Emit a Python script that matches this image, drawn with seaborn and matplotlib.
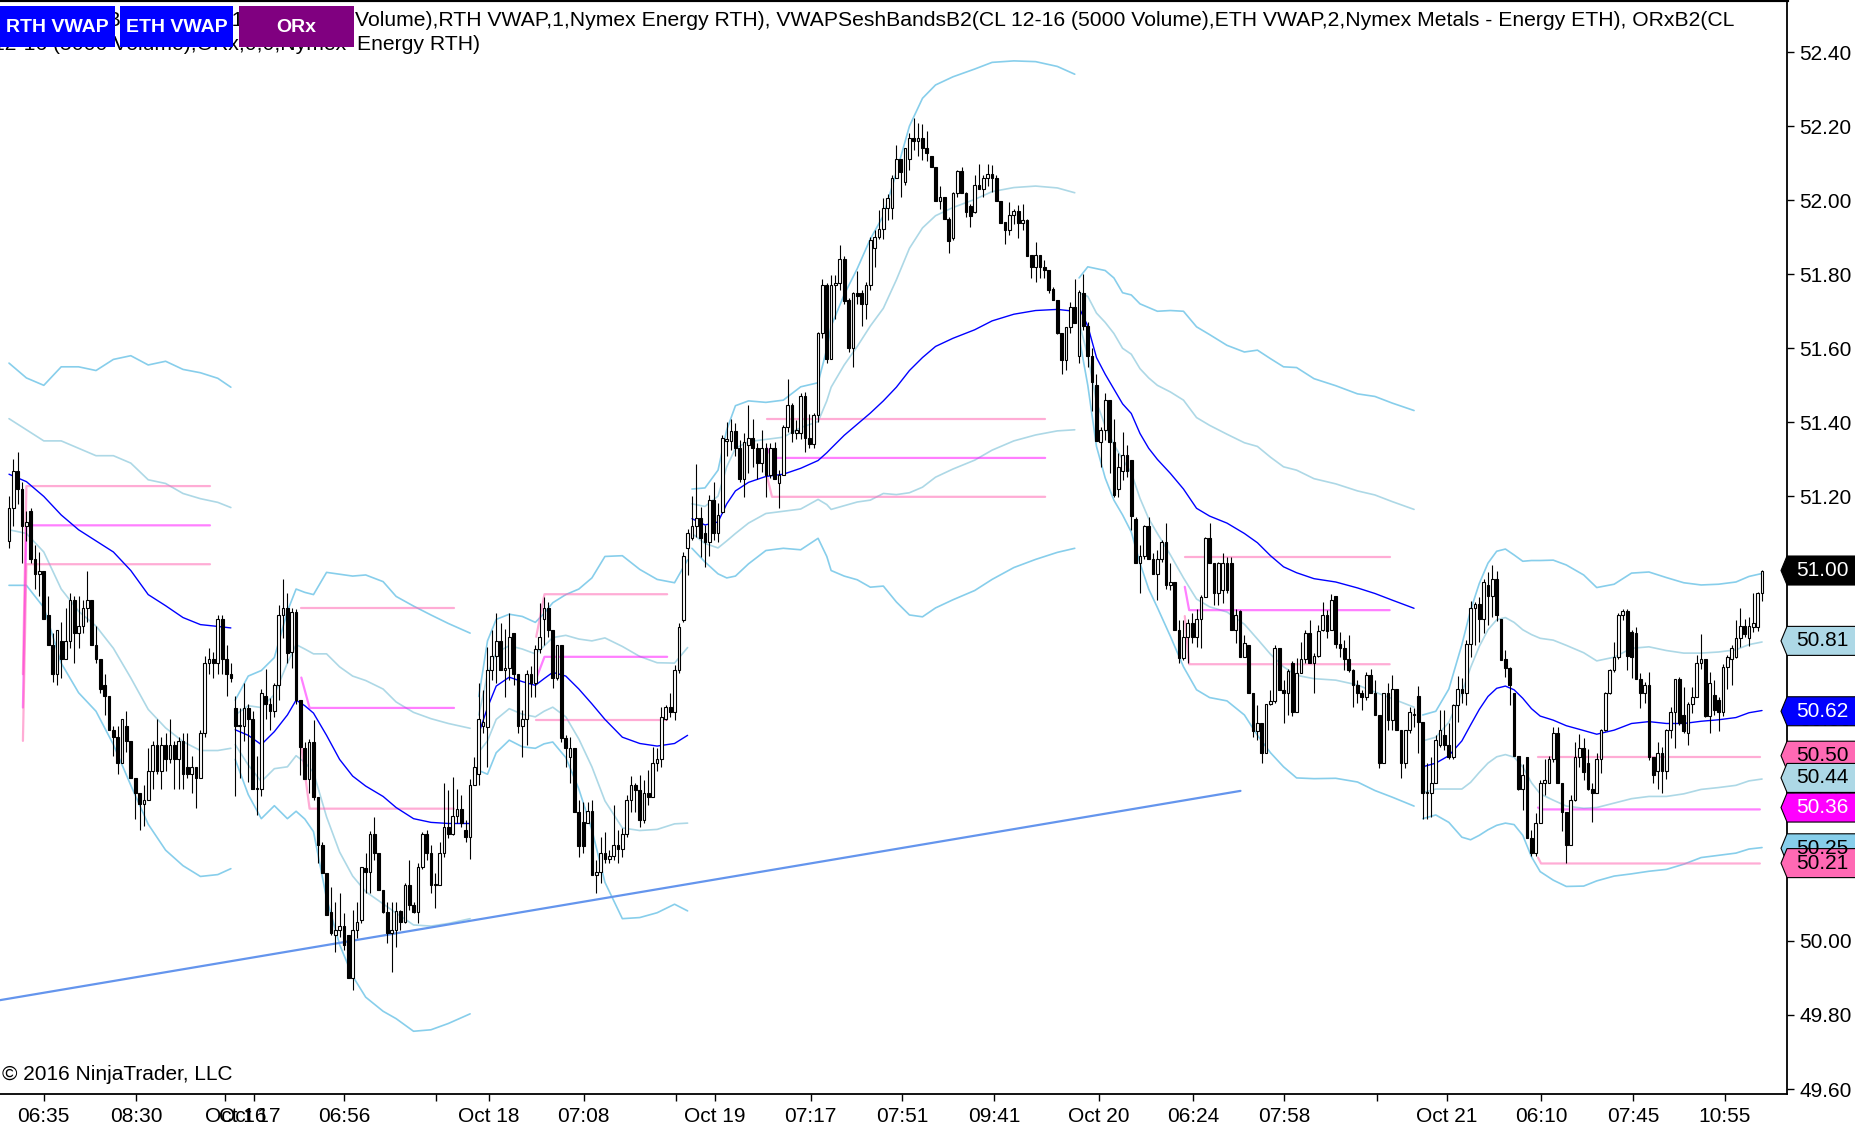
import numpy as np
import pandas as pd
import matplotlib
matplotlib.use("Agg")
import matplotlib.pyplot as plt
from matplotlib.patches import Polygon, Rectangle
from matplotlib.transforms import blended_transform_factory
import seaborn as sns

# ---------------- data ----------------
# candles (open, high, low, close), 5000-volume bars, in bar order
s1_ohlc = [(51.08,51.20,51.06,51.17),(51.17,51.30,51.12,51.27),(51.27,51.32,51.18,51.22),(51.22,51.24,51.02,51.12),(51.12,51.16,51.08,51.13),
 (51.16,51.17,51.02,51.03),(51.03,51.07,50.95,50.99),(50.99,51.05,50.93,51.00),(51.00,51.00,50.87,50.87),(50.88,50.93,50.80,50.80),
 (50.80,50.83,50.70,50.72),(50.72,50.84,50.69,50.84),(50.81,50.86,50.71,50.76),(50.76,50.90,50.76,50.81),(50.81,50.94,50.79,50.92),
 (50.92,50.93,50.75,50.83),(50.83,50.93,50.79,50.85),(50.85,50.92,50.83,50.90),(50.90,51.00,50.86,50.92),(50.92,50.92,50.80,50.80),
 (50.80,50.85,50.75,50.76),(50.76,50.76,50.67,50.68),(50.69,50.72,50.61,50.66),(50.66,50.66,50.57,50.57),(50.57,50.58,50.50,50.55),
 (50.55,50.58,50.45,50.48),(50.48,50.60,50.48,50.60),(50.58,50.62,50.51,50.54),(50.54,50.54,50.44,50.44),(50.44,50.44,50.33,50.40),
 (50.40,50.40,50.30,50.37),(50.37,50.42,50.31,50.38),(50.38,50.52,50.38,50.46),(50.46,50.54,50.41,50.53),(50.53,50.60,50.45,50.46),
 (50.46,50.55,50.41,50.53),(50.53,50.56,50.46,50.49),(50.49,50.60,50.48,50.53),(50.53,50.54,50.41,50.49),(50.49,50.55,50.41,50.54),
 (50.54,50.56,50.41,50.45),(50.47,50.56,50.44,50.45),(50.45,50.50,50.40,50.47),(50.47,50.47,50.36,50.44),(50.44,50.57,50.44,50.56),
 (50.56,50.77,50.55,50.75),(50.75,50.79,50.72,50.76),(50.76,50.78,50.71,50.75),(50.75,50.88,50.72,50.87),(50.87,50.88,50.72,50.76),
 (50.76,50.80,50.66,50.72),(50.72,50.75,50.70,50.71)]

s2_ohlc = [(50.63,50.66,50.39,50.58),(50.58,50.63,50.44,50.58),(50.58,50.695,50.54,50.63),(50.63,50.64,50.43,50.60),(50.60,50.62,50.41,50.41),
 (50.41,50.50,50.34,50.41),(50.41,50.68,50.39,50.67),(50.66,50.735,50.60,50.64),(50.64,50.655,50.57,50.62),(50.62,50.695,50.605,50.69),
 (50.69,50.906,50.65,50.88),(50.88,50.976,50.817,50.90),(50.90,50.938,50.749,50.776),(50.78,50.90,50.738,50.888),(50.888,50.897,50.639,50.65),
 (50.65,50.65,50.448,50.524),(50.52,50.537,50.438,50.438),(50.438,50.546,50.398,50.537),(50.537,50.596,50.38,50.389),(50.389,50.389,50.209,50.258),
 (50.258,50.267,50.182,50.182),(50.182,50.182,50.07,50.07),(50.079,50.146,50.016,50.02),(50.016,50.106,49.97,50.029),(50.029,50.128,50.01,50.04),
 (50.04,50.076,49.975,49.99),(50.016,50.016,49.899,49.899),(49.899,50.083,49.867,50.029),(50.029,50.106,50.007,50.052),(50.056,50.20,50.047,50.20),
 (50.198,50.236,50.128,50.187),(50.187,50.297,50.128,50.288),(50.288,50.335,50.218,50.238),(50.238,50.238,50.137,50.137),(50.137,50.137,50.074,50.079),
 (50.079,50.106,49.993,50.02),(50.02,50.106,49.917,50.029),(50.029,50.106,49.984,50.08),(50.08,50.083,50.03,50.052),(50.052,50.155,50.047,50.15),
 (50.15,50.218,50.083,50.097),(50.097,50.106,50.074,50.079),(50.079,50.209,50.047,50.20),(50.20,50.294,50.195,50.288),(50.288,50.299,50.218,50.238),
 (50.238,50.258,50.128,50.15),(50.15,50.182,50.088,50.15),(50.15,50.267,50.15,50.238),(50.238,50.425,50.227,50.308),(50.308,50.407,50.277,50.288),
 (50.288,50.443,50.285,50.337),(50.337,50.409,50.317,50.357),(50.357,50.394,50.308,50.317),(50.30,50.326,50.268,50.28),(50.28,50.438,50.22,50.42)]

s3_ohlc = [(50.42,50.497,50.42,50.47),(50.45,50.695,50.42,50.598),(50.58,50.677,50.56,50.59),(50.578,50.794,50.47,50.731),(50.731,50.839,50.704,50.769),
 (50.769,50.886,50.695,50.81),(50.81,50.857,50.731,50.731),(50.731,50.843,50.659,50.738),(50.738,50.886,50.704,50.82),(50.83,50.83,50.69,50.72),
 (50.72,50.72,50.56,50.58),(50.58,50.623,50.497,50.598),(50.598,50.731,50.53,50.72),(50.72,50.742,50.659,50.697),(50.697,50.799,50.659,50.789),
 (50.789,50.911,50.776,50.821),(50.868,50.929,50.80,50.90),(50.90,50.916,50.821,50.839),(50.839,50.839,50.682,50.71),(50.71,50.80,50.704,50.80),
 (50.80,50.80,50.537,50.549),(50.549,50.556,50.47,50.52),(50.497,50.551,50.425,50.52),(50.52,50.52,50.348,50.348),(50.348,50.38,50.227,50.256),
 (50.32,50.376,50.236,50.256),(50.317,50.376,50.317,50.351),(50.351,50.38,50.177,50.177),(50.177,50.218,50.128,50.186),(50.186,50.281,50.155,50.238),
 (50.238,50.294,50.209,50.22),(50.22,50.245,50.209,50.229),(50.229,50.366,50.218,50.258),(50.258,50.299,50.209,50.247),(50.247,50.306,50.227,50.288),
 (50.288,50.394,50.281,50.38),(50.38,50.445,50.348,50.42),(50.42,50.425,50.348,50.407),(50.407,50.447,50.308,50.326),(50.326,50.434,50.317,50.398),
 (50.398,50.461,50.367,50.389),(50.389,50.524,50.389,50.48),(50.48,50.52,50.46,50.49),(50.49,50.632,50.47,50.605),(50.598,50.637,50.596,50.632),
 (50.632,50.668,50.605,50.618),(50.618,50.745,50.596,50.731),(50.731,50.857,50.722,50.848),(50.866,51.05,50.86,51.04),(51.06,51.113,50.988,51.10)]

s4_ohlc = [(51.089,51.20,51.082,51.12),(51.12,51.287,51.091,51.143),(51.143,51.172,51.037,51.089),(51.10,51.122,51.01,51.077),(51.077,51.203,51.04,51.19),
 (51.19,51.24,51.082,51.10),(51.10,51.181,51.077,51.15),(51.158,51.365,51.154,51.359),(51.35,51.40,51.31,51.355),(51.35,51.41,51.325,51.377),
 (51.377,51.397,51.31,51.33),(51.33,51.352,51.24,51.248),(51.248,51.37,51.199,51.347),(51.338,51.446,51.262,51.359),(51.359,51.408,51.28,51.33),
 (51.33,51.343,51.248,51.289),(51.289,51.379,51.267,51.33),(51.33,51.343,51.199,51.257),(51.257,51.345,51.251,51.33),(51.33,51.348,51.248,51.248),
 (51.236,51.271,51.168,51.257),(51.257,51.392,51.257,51.388),(51.388,51.516,51.374,51.446),(51.446,51.451,51.347,51.372),(51.37,51.406,51.356,51.379),
 (51.37,51.478,51.356,51.471),(51.471,51.482,51.32,51.359),(51.359,51.422,51.33,51.341),(51.341,51.426,51.33,51.42),(51.42,51.645,51.40,51.64),
 (51.64,51.786,51.627,51.77),(51.77,51.775,51.559,51.57),(51.57,51.798,51.57,51.77),(51.77,51.798,51.68,51.775),(51.775,51.88,51.757,51.84),
 (51.84,51.849,51.72,51.728),(51.73,51.735,51.59,51.60),(51.60,51.752,51.55,51.75),(51.75,51.81,51.72,51.74),(51.75,51.757,51.66,51.72),
 (51.72,51.78,51.68,51.77),(51.77,51.90,51.757,51.892),(51.87,51.919,51.82,51.90),(51.90,51.973,51.896,51.923),(51.923,52.007,51.896,51.98),
 (51.98,52.016,51.946,52.007),(51.98,52.067,51.95,52.061),(52.061,52.148,52.059,52.11),(52.11,52.11,52.009,52.077),(52.05,52.14,52.04,52.14),
 (52.11,52.18,52.081,52.169),(52.169,52.223,52.135,52.16),(52.16,52.207,52.119,52.169),(52.169,52.205,52.108,52.14),(52.14,52.187,52.106,52.128),
 (52.12,52.12,52.09,52.09),(52.09,52.09,51.998,51.998),(51.998,52.038,51.977,52.009),(52.009,52.009,51.95,51.95),(51.95,51.955,51.858,51.89),
 (51.899,52.022,51.892,52.02),(52.02,52.081,52.009,52.079),(52.079,52.09,52.02,52.02),(52.02,52.022,51.955,51.968),(51.984,51.99,51.928,51.957),
 (51.968,52.067,51.966,52.04),(52.04,52.097,52.029,52.029),(52.029,52.067,52.009,52.061),(52.061,52.097,52.038,52.07),(52.07,52.094,52.022,52.061),
 (52.061,52.067,51.998,51.998),(51.998,51.998,51.939,51.939),(51.941,51.941,51.881,51.919),(51.919,51.996,51.905,51.96),(51.96,51.977,51.935,51.97),
 (51.97,51.988,51.899,51.939),(51.939,51.989,51.919,51.946),(51.946,51.948,51.849,51.849),(51.851,51.851,51.789,51.82),(51.82,51.887,51.78,51.851),
 (51.851,51.851,51.789,51.82),(51.82,51.838,51.789,51.811),(51.811,51.811,51.75,51.757),(51.759,51.766,51.73,51.73),(51.73,51.73,51.638,51.64),
 (51.64,51.64,51.53,51.568),(51.568,51.658,51.541,51.658),(51.658,51.726,51.64,51.712),(51.712,51.786,51.669,51.669)]

s5_ohlc = [(51.58,51.757,51.559,51.752),(51.75,51.80,51.65,51.66),(51.66,51.67,51.55,51.58),(51.58,51.60,51.43,51.51),(51.50,51.53,51.35,51.35),
 (51.348,51.388,51.28,51.379),(51.379,51.478,51.352,51.46),(51.46,51.46,51.262,51.348),(51.348,51.408,51.199,51.204),(51.219,51.316,51.199,51.279),
 (51.269,51.374,51.244,51.311),(51.311,51.338,51.253,51.269),(51.298,51.298,51.109,51.147),(51.14,51.145,51.019,51.019),(51.019,51.068,50.938,51.039),
 (51.039,51.122,51.032,51.12),(51.12,51.145,51.03,51.03),(51.03,51.046,50.99,50.99),(50.99,51.055,50.92,51.03),(51.03,51.082,51.023,51.078),
 (51.078,51.127,50.951,50.96),(50.96,51.02,50.947,50.97),(50.97,50.97,50.839,50.839),(50.839,50.866,50.749,50.763),(50.763,50.866,50.758,50.821),
 (50.821,50.87,50.749,50.859),(50.859,50.884,50.803,50.821),(50.821,50.897,50.794,50.868),(50.868,50.933,50.79,50.929),(50.929,51.091,50.929,51.089),
 (51.089,51.127,51.019,51.019),(51.019,51.019,50.906,50.938),(50.938,51.023,50.906,51.019),(50.947,51.046,50.911,51.019),(51.019,51.037,50.938,50.947),
 (51.019,51.037,50.839,50.839),(50.839,50.897,50.803,50.879),(50.89,50.893,50.767,50.767),(50.767,50.825,50.767,50.803),
 (50.80,50.80,50.668,50.668),(50.668,50.668,50.551,50.567),(50.567,50.636,50.542,50.589),(50.589,50.589,50.479,50.508),(50.508,50.639,50.508,50.639),
 (50.639,50.677,50.636,50.648),(50.648,50.798,50.641,50.79),(50.79,50.79,50.677,50.677),(50.678,50.704,50.589,50.668),(50.668,50.735,50.61,50.729),
 (50.749,50.756,50.607,50.618),(50.618,50.765,50.618,50.722),(50.722,50.808,50.722,50.76),(50.76,50.839,50.749,50.83),(50.83,50.866,50.749,50.749),
 (50.749,50.776,50.668,50.769),(50.769,50.852,50.767,50.837),(50.839,50.916,50.837,50.879),(50.879,50.893,50.819,50.837),(50.839,50.936,50.839,50.92),
 (50.93,50.93,50.79,50.801),(50.801,50.834,50.767,50.79),(50.79,50.812,50.731,50.76),(50.76,50.825,50.727,50.731),(50.731,50.735,50.632,50.69),
 (50.69,50.704,50.641,50.668),(50.668,50.677,50.623,50.659),(50.659,50.727,50.65,50.717),(50.717,50.735,50.67,50.67),(50.67,50.704,50.61,50.61),
 (50.61,50.61,50.468,50.479),(50.479,50.668,50.479,50.668),(50.668,50.695,50.569,50.596),(50.596,50.717,50.569,50.679),(50.679,50.679,50.569,50.569),
 (50.569,50.569,50.439,50.479),(50.479,50.569,50.468,50.569),(50.569,50.632,50.56,50.619),(50.61,50.628,50.578,50.61)]

s6_ohlc = [(50.66,50.688,50.506,50.592),(50.592,50.592,50.328,50.398),(50.398,50.479,50.328,50.398),(50.398,50.497,50.335,50.427),(50.427,50.556,50.425,50.542),
 (50.529,50.623,50.524,50.569),(50.556,50.623,50.515,50.529),(50.529,50.587,50.49,50.497),(50.497,50.639,50.49,50.637),(50.637,50.715,50.591,50.679),
 (50.679,50.709,50.641,50.668),(50.668,50.812,50.637,50.801),(50.801,50.918,50.767,50.90),(50.90,50.915,50.80,50.909),(50.909,50.929,50.807,50.868),
 (50.868,50.978,50.83,50.969),(50.96,50.996,50.852,50.931),(50.931,51.015,50.875,50.978),(50.978,50.999,50.864,50.879),(50.868,50.868,50.758,50.758),
 (50.76,50.785,50.713,50.738),(50.738,50.74,50.636,50.69),(50.67,50.67,50.499,50.499),(50.499,50.499,50.407,50.409),(50.409,50.477,50.353,50.447),
 (50.497,50.497,50.279,50.279),(50.279,50.299,50.229,50.238),(50.238,50.344,50.229,50.319),(50.319,50.434,50.317,50.427),(50.427,50.49,50.393,50.434),
 (50.427,50.499,50.425,50.49),(50.49,50.578,50.484,50.56),(50.56,50.578,50.425,50.427),(50.427,50.427,50.297,50.349),(50.349,50.349,50.209,50.259),
 (50.259,50.394,50.259,50.38),(50.38,50.537,50.378,50.497),(50.497,50.558,50.47,50.52),(50.52,50.547,50.434,50.457),(50.48,50.517,50.407,50.409),
 (50.411,50.425,50.32,50.40),(50.40,50.506,50.398,50.49),
 (50.49,50.573,50.452,50.569),(50.569,50.672,50.567,50.668),(50.668,50.735,50.666,50.731),(50.731,50.808,50.727,50.767),(50.767,50.884,50.76,50.879),
 (50.879,50.897,50.866,50.891),(50.891,50.897,50.731,50.769),(50.834,50.839,50.709,50.767),(50.832,50.848,50.708,50.708),(50.708,50.722,50.63,50.668),
 (50.668,50.699,50.641,50.69),(50.69,50.727,50.488,50.497),(50.497,50.497,50.425,50.448),(50.459,50.537,50.409,50.508),(50.508,50.524,50.398,50.459),
 (50.459,50.573,50.436,50.569),(50.569,50.632,50.549,50.618),(50.618,50.708,50.522,50.708),(50.708,50.713,50.583,50.587),(50.609,50.686,50.56,50.567),
 (50.56,50.645,50.529,50.639),(50.639,50.686,50.614,50.659),(50.659,50.771,50.659,50.749),(50.749,50.828,50.735,50.76),(50.76,50.76,50.605,50.607),
 (50.607,50.727,50.56,50.697),(50.663,50.704,50.61,50.623),(50.65,50.659,50.567,50.618),(50.618,50.747,50.607,50.74),(50.74,50.771,50.681,50.767),
 (50.76,50.80,50.69,50.79),(50.767,50.866,50.765,50.819),(50.819,50.898,50.794,50.85),(50.85,50.87,50.821,50.828),(50.819,50.875,50.796,50.85),
 (50.848,50.938,50.834,50.857),(50.848,50.943,50.837,50.938),(50.938,51.001,50.918,50.999)]

# session VWAP and its standard deviation, sampled at bar indices
vw1_i = [0, 4, 8, 12, 16, 20, 24, 28, 32, 36, 40, 44, 48, 51]
vw1_v = [51.26, 51.24, 51.20, 51.15, 51.11, 51.08, 51.05, 51.00, 50.935, 50.905, 50.873, 50.854, 50.849, 50.845]
vw1_s = [0.15, 0.14, 0.15, 0.20, 0.22, 0.23, 0.26, 0.29, 0.31, 0.33, 0.335, 0.34, 0.335, 0.325]

vw2_i = [52, 55, 58, 61, 64, 66, 68, 70, 73, 76, 79, 82, 86, 89, 93, 97, 101, 106]
vw2_v = [50.57, 50.555, 50.53, 50.565, 50.61, 50.65, 50.635, 50.615, 50.555, 50.49, 50.445, 50.418, 50.39, 50.36, 50.33, 50.32, 50.317, 50.317]
vw2_s = [0.04, 0.08, 0.10, 0.10, 0.14, 0.15, 0.153, 0.16, 0.22, 0.25, 0.27, 0.285, 0.29, 0.285, 0.287, 0.28, 0.27, 0.257]

vw3_i = [108, 110, 112, 115, 118, 121, 123, 125, 128, 131, 134, 137, 141, 145, 149, 153, 156]
vw3_v = [50.56, 50.63, 50.688, 50.712, 50.70, 50.69, 50.708, 50.725, 50.715, 50.68, 50.64, 50.598, 50.55, 50.533, 50.526, 50.533, 50.555]
vw3_s = [0.05, 0.09, 0.09, 0.085, 0.088, 0.085, 0.088, 0.094, 0.11, 0.135, 0.17, 0.22, 0.245, 0.235, 0.225, 0.217, 0.237]

vw4_i = [157, 160, 163, 165, 167, 170, 174, 178, 182, 186, 188, 189, 192, 195, 198, 201, 204, 207, 210, 213, 217, 222, 226, 231, 236, 241, 245]
vw4_v = [51.14, 51.123, 51.131, 51.18, 51.215, 51.238, 51.254, 51.26, 51.276, 51.297, 51.318, 51.33, 51.365, 51.395, 51.425, 51.458, 51.495, 51.54, 51.575, 51.605, 51.627, 51.65, 51.674, 51.692, 51.702, 51.705, 51.70]
vw4_s = [0.04, 0.05, 0.07, 0.10, 0.115, 0.11, 0.10, 0.10, 0.11, 0.105, 0.14, 0.165, 0.19, 0.21, 0.235, 0.25, 0.29, 0.33, 0.35, 0.353, 0.353, 0.352, 0.349, 0.342, 0.336, 0.328, 0.32]

vw5_i = [246, 248, 250, 252, 254, 256, 258, 260, 262, 264, 267, 270, 273, 276, 280, 284, 287, 290, 293, 296, 300, 305, 310, 314, 318, 323]
vw5_v = [51.71, 51.66, 51.575, 51.53, 51.49, 51.45, 51.424, 51.37, 51.33, 51.30, 51.262, 51.22, 51.168, 51.147, 51.128, 51.10, 51.075, 51.04, 51.01, 50.994, 50.978, 50.969, 50.953, 50.938, 50.92, 50.898]
vw5_s = [0.04, 0.08, 0.12, 0.14, 0.15, 0.15, 0.16, 0.175, 0.19, 0.20, 0.22, 0.24, 0.245, 0.245, 0.24, 0.245, 0.26, 0.266, 0.27, 0.277, 0.27, 0.265, 0.262, 0.266, 0.266, 0.267]

vw6_i = [325, 328, 331, 334, 336, 338, 340, 342, 344, 346, 348, 350, 352, 355, 358, 362, 365, 369, 373, 377, 381, 385, 389, 393, 397, 400, 403]
vw6_v = [50.47, 50.48, 50.50, 50.54, 50.583, 50.625, 50.66, 50.682, 50.688, 50.678, 50.655, 50.627, 50.607, 50.596, 50.581, 50.568, 50.558, 50.569, 50.587, 50.592, 50.587, 50.587, 50.593, 50.597, 50.603, 50.616, 50.622]
vw6_s = [0.07, 0.07, 0.09, 0.13, 0.155, 0.17, 0.18, 0.185, 0.185, 0.182, 0.185, 0.20, 0.21, 0.216, 0.217, 0.21, 0.198, 0.197, 0.203, 0.202, 0.197, 0.19, 0.184, 0.183, 0.183, 0.184, 0.185]

# opening range (ORx) levels per session
orx_from  = [3.2, 67.2, 121.2, 174.3, 270.3, 351.5]
orx_start = [4.0, 69.1, 123.1, 175.4, 271.3, 352.2]
orx_end   = [46.2, 102.3, 151.3, 238.2, 317.4, 402.5]
orx_top_prev = [50.72, 50.899, 50.821, 51.409, 51.037, 50.497]
orx_top      = [51.228, 50.899, 50.936, 51.409, 51.037, 50.497]
orx_mid_prev = [50.63, 50.711, 50.708, 51.33, 50.956, 50.36]
orx_mid      = [51.122, 50.629, 50.767, 51.304, 50.893, 50.355]
orx_bot_prev = [50.54, 50.524, 50.596, 51.253, 50.877, 50.225]
orx_bot      = [51.017, 50.357, 50.596, 51.199, 50.747, 50.209]

# hand-drawn trend line (bar index, price)
trend_i = [-2.07, 283.1]
trend_p = [49.84, 50.405]

# x axis ticks (bar index) and labels
xtick_pos = [8.0, 29.2, 49.6, 56.4, 77.1, 98.1, 110.3, 132.1, 153.3, 162.3, 184.3, 205.3, 226.5, 250.5, 272.2, 293.2, 314.4, 330.5, 352.2, 373.4, 394.4]
xtick_lbl = ['06:35', '08:30', '', '', '06:56', '', 'Oct 18', '07:08', '', 'Oct 19', '07:17', '07:51', '09:41', 'Oct 20', '06:24', '07:58', '', 'Oct 21', '06:10', '07:45', '10:55']
xextra_pos = [52.1, 55.4]
xextra_lbl = ['Oct 16', 'Oct 17']

# right-hand price markers
mark_val  = [50.25, 51.00, 50.81, 50.62, 50.50, 50.44, 50.36, 50.21]
mark_face = ['#87CEEB', 'black', '#ADD8E6', '#0000FF', '#FF69B4', '#ADD8E6', '#FF00FF', '#FF69B4']
mark_txt  = ['black', 'white', 'black', 'white', 'black', 'black', 'white', 'black']

header_l1 = "Volume),RTH VWAP,1,Nymex Energy RTH), VWAPSeshBandsB2(CL 12-16 (5000 Volume),ETH VWAP,2,Nymex Metals - Energy ETH), ORxB2(CL"
header_l1_hidden = "VWAPSeshBandsB2(CL 12-16 (5000 "
header_l2_hidden = "12-16 (5000 Volume),ORx,0,0,Nymex "
header_l2 = "Energy RTH)"
buttons = ['RTH VWAP', 'ETH VWAP', 'ORx']
button_colors = ['#0000FF', '#0000FF', '#800080']

# ---------------- drawing ----------------
sns.set_theme(style="white")
plt.rcParams['font.family'] = ['Liberation Sans', 'DejaVu Sans']

W, H = 1856, 1133
fig = plt.figure(figsize=(W / 100, H / 100), dpi=100)
fig.patch.set_facecolor('white')
ax = fig.add_axes([0, 1 - 1094 / H, 1787 / W, 1094 / H])
ax.set_facecolor('white')
ax.set_xlim(-2.07, 408.74)
ax.set_ylim(49.5866, 52.5404)

df = pd.DataFrame(s1_ohlc + s2_ohlc + s3_ohlc + s4_ohlc + s5_ohlc + s6_ohlc,
                  columns=['open', 'high', 'low', 'close'])
df['i'] = np.arange(len(df))
up = df['close'] >= df['open']

# VWAP bands
sessions = [(vw1_i, vw1_v, vw1_s), (vw2_i, vw2_v, vw2_s), (vw3_i, vw3_v, vw3_s),
            (vw4_i, vw4_v, vw4_s), (vw5_i, vw5_v, vw5_s), (vw6_i, vw6_v, vw6_s)]
for si, sv, ss in sessions:
    d = pd.DataFrame({'i': si, 'v': sv, 's': ss})
    for k, col in [(2, '#87CEEB'), (1, '#ADD8E6'), (-1, '#ADD8E6'), (-2, '#87CEEB')]:
        sns.lineplot(x=d['i'], y=d['v'] + k * d['s'], ax=ax, color=col, linewidth=1.2,
                     estimator=None, sort=False, legend=False, zorder=2)
    sns.lineplot(x=d['i'], y=d['v'], ax=ax, color='#0000FF', linewidth=1.0,
                 estimator=None, sort=False, legend=False, zorder=3)

# ORx lines
for n in range(len(orx_start)):
    xs = [orx_from[n], orx_start[n], orx_end[n]]
    ax.plot(xs, [orx_top_prev[n], orx_top[n], orx_top[n]], color='#FF69B4', alpha=0.55, lw=1.6, zorder=2.5)
    ax.plot(xs, [orx_mid_prev[n], orx_mid[n], orx_mid[n]], color='#FF00FF', alpha=0.5, lw=1.6, zorder=2.5)
    ax.plot(xs, [orx_bot_prev[n], orx_bot[n], orx_bot[n]], color='#FF69B4', alpha=0.55, lw=1.6, zorder=2.5)

# trend line
sns.lineplot(x=trend_i, y=trend_p, ax=ax, color='#6495ED', linewidth=1.6, estimator=None, legend=False, zorder=3)

# candles
ax.vlines(df['i'], df['low'], df['high'], colors='black', linewidth=0.8, zorder=4)
bottoms = np.minimum(df['open'], df['close'])
heights = np.maximum((df['close'] - df['open']).abs(), 0.003)
ax.bar(df['i'], heights, bottom=bottoms, width=0.62,
       color=np.where(up, 'white', 'black'), edgecolor='black', linewidth=0.8, zorder=5)

# axes styling
for side in ['left']:
    ax.spines[side].set_visible(False)
for side in ['right', 'bottom']:
    ax.spines[side].set_color('black')
    ax.spines[side].set_linewidth(1.3)
ax.spines['top'].set_color('black')
ax.spines['top'].set_linewidth(3)
ax.set_xlabel('')
ax.set_ylabel('')
ax.yaxis.tick_right()
yt = np.round(np.arange(49.6, 52.41, 0.2), 2)
ax.set_yticks(yt)
ax.set_yticklabels([f'{v:.2f}' for v in yt])
ax.tick_params(axis='y', which='both', direction='out', length=5, width=1, pad=4,
               labelsize=15, colors='black', right=True, left=False, labelright=True, labelleft=False)
ax.set_xticks(xtick_pos)
ax.set_xticklabels([''] * len(xtick_pos))
ax.tick_params(axis='x', which='both', direction='out', length=5, width=1, bottom=True, colors='black')
ax.grid(False)

xt = blended_transform_factory(ax.transData, fig.transFigure)
ylab = 1 - 1117 / H
for p, l in zip(xtick_pos + xextra_pos, xtick_lbl + xextra_lbl):
    if l:
        ax.text(p, ylab, l, transform=xt, ha='center', va='center', fontsize=15, color='black', clip_on=False)

# copyright
fig.text(2 / W, 1 - 1075 / H, '\u00a9 2016 NinjaTrader, LLC', fontsize=15, ha='left', va='center', color='black', zorder=6)

# header text (partially under the buttons)
r = fig.canvas.get_renderer()
t1 = fig.text(355 / W, 1 - 20 / H, header_l1, fontsize=16, ha='left', va='center', color='black', zorder=6)
w = t1.get_window_extent(r).width
fs = 16 * 1377 / w
t1.set_fontsize(fs)
fig.text(352 / W, 1 - 20 / H, header_l1_hidden, fontsize=fs, ha='right', va='center', color='black', zorder=6)
fig.text(352 / W, 1 - 44 / H, header_l2_hidden, fontsize=fs, ha='right', va='center', color='black', zorder=6)
fig.text(357 / W, 1 - 44 / H, header_l2, fontsize=fs, ha='left', va='center', color='black', zorder=6)

# buttons
bx = [(0, 115), (120, 233), (239, 354)]
for (x0, x1), lab, col in zip(bx, buttons, button_colors):
    fig.add_artist(Rectangle((x0 / W, 1 - 47 / H), (x1 - x0) / W, 41 / H, transform=fig.transFigure,
                             facecolor=col, edgecolor='none', zorder=7))
    fig.text((x0 + x1) / 2 / W, 1 - 27 / H, lab, fontsize=14, fontweight='bold', color='white',
             ha='center', va='center', zorder=8)

# right-hand price markers
hh = 14.5
for v, fc, tc in zip(mark_val, mark_face, mark_txt):
    yc = ax.transData.transform((0, v))[1]
    verts = [(1781, yc), (1787, yc + hh), (1860, yc + hh), (1860, yc - hh), (1787, yc - hh)]
    verts = [(x / W, y / H) for x, y in verts]
    fig.add_artist(Polygon(verts, closed=True, transform=fig.transFigure, facecolor=fc,
                           edgecolor='black', linewidth=0.8, zorder=9))
    fig.text(1822 / W, yc / H, f'{v:.2f}', fontsize=15, color=tc, ha='center', va='center', zorder=10)

fig.savefig('out.png', dpi=100, facecolor='white')
